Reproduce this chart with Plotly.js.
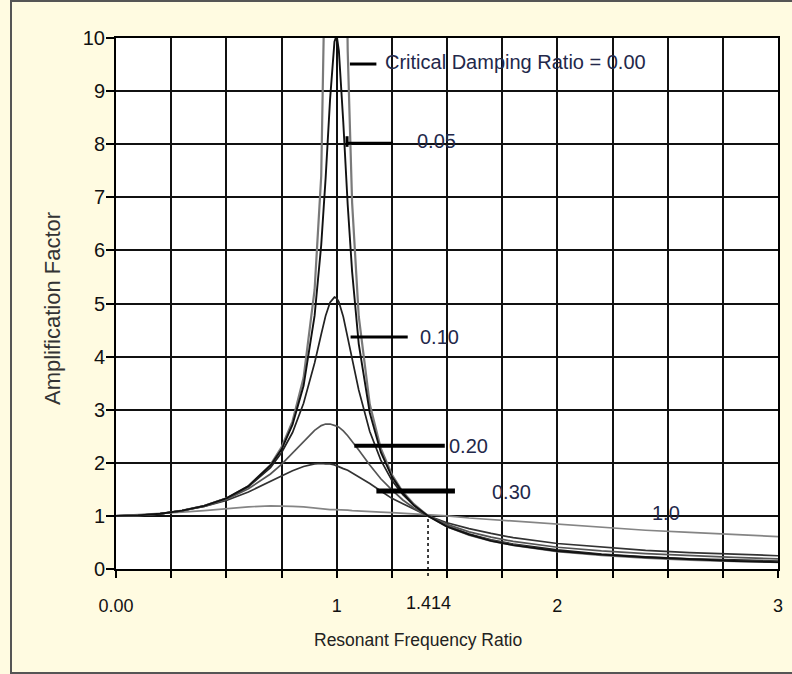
<!DOCTYPE html>
<html>
<head>
<meta charset="utf-8">
<script src="https://cdn.plot.ly/plotly-3.0.1.min.js"></script>
<style>
  html, body { margin: 0; padding: 0; background: #FFFBE1; width: 792px; height: 674px; overflow: hidden; }
  #frame { position: absolute; left: 10px; top: 0px; width: 820px; height: 670px; border: 2px solid #555; box-sizing: content-box; }
  #chart { position: absolute; left: 0; top: 0; width: 792px; height: 674px; }
</style>
</head>
<body>
<div id="frame"></div>
<div id="chart"></div>
<script>
// ---- data ----
const ratio = [0, 0.1, 0.2, 0.3, 0.4, 0.5, 0.6, 0.7, 0.75, 0.8, 0.85, 0.9, 0.93, 0.95, 0.97, 0.99, 1.0, 1.01, 1.03, 1.05, 1.07, 1.1, 1.15, 1.2, 1.25, 1.3, 1.35, 1.414, 1.5, 1.6, 1.7, 1.8, 2.0, 2.2, 2.4, 2.6, 2.8, 3.0];
const ratioUndamped = [0, 0.1, 0.2, 0.3, 0.4, 0.5, 0.6, 0.7, 0.75, 0.8, 0.85, 0.9, 0.93, 0.95, 0.97, 1.0, 1.03, 1.05, 1.07, 1.1, 1.15, 1.2, 1.25, 1.3, 1.35, 1.414, 1.5, 1.6, 1.7, 1.8, 2.0, 2.2, 2.4, 2.6, 2.8, 3.0];

const damp000 = [1.00, 1.01, 1.04, 1.10, 1.19, 1.33, 1.56, 1.96, 2.29, 2.78, 3.60, 5.26, 7.40, 10.26, 16.9, null, 16.4, 9.76, 6.90, 4.76, 3.10, 2.27, 1.78, 1.45, 1.22, 1.00, 0.80, 0.64, 0.53, 0.45, 0.33, 0.26, 0.21, 0.17, 0.15, 0.13];
const damp005 = [1.00, 1.01, 1.04, 1.10, 1.19, 1.33, 1.56, 1.95, 2.25, 2.72, 3.45, 4.77, 6.10, 7.36, 8.84, 9.93, 10.05, 9.76, 8.41, 6.86, 5.60, 4.24, 2.94, 2.20, 1.74, 1.43, 1.20, 1.00, 0.80, 0.65, 0.53, 0.45, 0.34, 0.27, 0.22, 0.18, 0.15, 0.13];
const damp010 = [1.00, 1.01, 1.04, 1.10, 1.19, 1.33, 1.55, 1.91, 2.19, 2.57, 3.12, 3.88, 4.42, 4.77, 5.02, 5.12, 5.10, 5.03, 4.75, 4.37, 3.96, 3.37, 2.59, 2.05, 1.67, 1.40, 1.20, 1.00, 0.81, 0.66, 0.55, 0.47, 0.36, 0.28, 0.23, 0.19, 0.17, 0.15];
const damp020 = [1.00, 1.01, 1.04, 1.10, 1.18, 1.31, 1.51, 1.79, 1.97, 2.18, 2.41, 2.61, 2.70, 2.73, 2.73, 2.71, 2.69, 2.67, 2.60, 2.51, 2.41, 2.24, 1.96, 1.70, 1.49, 1.30, 1.15, 1.00, 0.84, 0.70, 0.60, 0.52, 0.41, 0.34, 0.29, 0.25, 0.22, 0.19];
const damp030 = [1.00, 1.01, 1.04, 1.10, 1.18, 1.29, 1.45, 1.64, 1.75, 1.85, 1.93, 1.98, 1.99, 1.98, 1.98, 1.96, 1.94, 1.93, 1.89, 1.86, 1.81, 1.74, 1.61, 1.47, 1.33, 1.23, 1.13, 1.00, 0.87, 0.76, 0.67, 0.59, 0.48, 0.41, 0.35, 0.31, 0.28, 0.25];
const damp100 = [1.00, 1.02, 1.04, 1.07, 1.10, 1.14, 1.17, 1.19, 1.19, 1.18, 1.17, 1.15, 1.13, 1.13, 1.12, 1.12, 1.12, 1.12, 1.11, 1.11, 1.10, 1.09, 1.08, 1.07, 1.06, 1.05, 1.04, 1.02, 1.00, 0.96, 0.93, 0.90, 0.84, 0.78, 0.73, 0.69, 0.65, 0.61];

const xTickVals = [0, 0.25, 0.5, 0.75, 1, 1.25, 1.5, 1.75, 2, 2.25, 2.5, 2.75, 3];
const xTickText = ["0.00", "", "", "", "1", "", "", "", "2", "", "", "", "3"];
const yTickVals = [0, 1, 2, 3, 4, 5, 6, 7, 8, 9, 10];

const seriesLabels = ["Critical Damping Ratio = 0.00", "0.05", "0.10", "0.20", "0.30", "1.0"];
// ------------------------------------------------

const FONT = "Liberation Sans, Arial, Helvetica, sans-serif";

function tr(x, y, color, w) {
  return { x: x, y: y, type: 'scatter', mode: 'lines', connectgaps: false,
           line: { color: color, width: w }, hoverinfo: 'skip', showlegend: false };
}

const traces = [
  tr(ratio, damp100, '#858585', 1.7),
  tr(ratio, damp030, '#333333', 1.7),
  tr(ratio, damp020, '#555555', 1.7),
  tr(ratio, damp010, '#222222', 1.7),
  tr(ratioUndamped, damp000, '#7a7a7a', 2.2),
  tr(ratio, damp005, '#111111', 1.9)
];

const labelColor = '#23284a';
function lab(text, x, y) {
  return { text: text, x: x, y: y, xref: 'x', yref: 'y', xanchor: 'left', yanchor: 'middle',
           showarrow: false, font: { family: FONT, size: 20, color: labelColor } };
}
function leader(x0, x1, y, w) {
  return { type: 'line', xref: 'x', yref: 'y', x0: x0, x1: x1, y0: y, y1: y,
           line: { color: '#000', width: w } };
}

const layout = {
  width: 792, height: 674,
  margin: { l: 116, r: 14, t: 38, b: 105 },
  paper_bgcolor: 'rgba(0,0,0,0)',
  plot_bgcolor: '#ffffff',
  font: { family: FONT, color: '#111' },
  showlegend: false,
  xaxis: {
    range: [0, 3], tickmode: 'array', tickvals: xTickVals, ticktext: xTickText,
    showgrid: true, gridcolor: '#111', gridwidth: 2,
    showline: true, linecolor: '#000', linewidth: 2, mirror: true,
    ticks: 'outside', ticklen: 7, tickwidth: 2, tickcolor: '#000',
    tickfont: { family: FONT, size: 18, color: '#111' },
    ticklabelstandoff: 12, zeroline: false, fixedrange: true
  },
  yaxis: {
    range: [0, 10], tickmode: 'array', tickvals: yTickVals,
    showgrid: true, gridcolor: '#111', gridwidth: 2,
    showline: true, linecolor: '#000', linewidth: 2, mirror: true,
    ticks: 'outside', ticklen: 8, tickwidth: 2, tickcolor: '#000',
    tickfont: { family: FONT, size: 20, color: '#111' },
    ticklabelstandoff: -3,
    zeroline: false, fixedrange: true
  },
  shapes: [
    leader(1.06, 1.18, 9.51, 3),
    leader(1.047, 1.255, 8.02, 3),
    { type: 'line', xref: 'x', yref: 'y', x0: 1.047, x1: 1.047, y0: 7.95, y1: 8.15, line: { color: '#000', width: 3 } },
    leader(1.063, 1.322, 4.37, 3),
    leader(1.08, 1.49, 2.32, 4),
    leader(1.18, 1.536, 1.47, 5),
    { type: 'line', xref: 'x', yref: 'paper', x0: 1.414, x1: 1.414, y0: -0.013, y1: 0.096,
      line: { color: '#000', width: 1.5, dash: 'dot' } }
  ],
  annotations: [
    lab(seriesLabels[0], 1.21, 9.55),
    lab(seriesLabels[1], 1.355, 8.06),
    lab(seriesLabels[2], 1.368, 4.37),
    lab(seriesLabels[3], 1.50, 2.32),
    lab(seriesLabels[4], 1.695, 1.45),
    lab(seriesLabels[5], 2.42, 1.05),
    { text: '1.414', x: 1.418, y: -0.064, xref: 'x', yref: 'paper', xanchor: 'center', yanchor: 'middle',
      showarrow: false, font: { family: FONT, size: 18, color: '#111' } },
    { text: 'Resonant Frequency Ratio', x: 0.456, y: -0.1337, xref: 'paper', yref: 'paper',
      xanchor: 'center', yanchor: 'middle', showarrow: false,
      font: { family: FONT, size: 17.5, color: '#222' } },
    { text: 'Amplification Factor', x: -0.0967, y: 0.4915, xref: 'paper', yref: 'paper',
      xanchor: 'center', yanchor: 'middle', textangle: -90, showarrow: false,
      font: { family: FONT, size: 22, color: '#333' } }
  ]
};

Plotly.newPlot('chart', traces, layout, { staticPlot: true, displayModeBar: false });
</script>
</body>
</html>
